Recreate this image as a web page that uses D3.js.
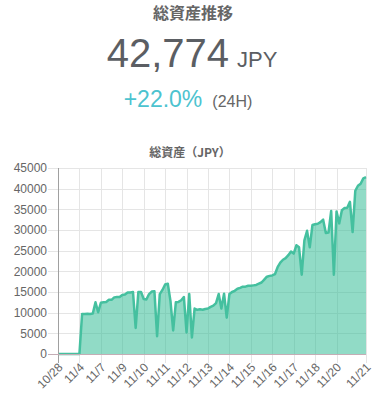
<!DOCTYPE html>
<html>
<head>
<meta charset="utf-8">
<script src="https://cdn.jsdelivr.net/npm/d3@7"></script>
<style>
  body { margin: 0; background: #fff; }
  svg { display: block; }
</style>
</head>
<body>
<svg id="chart" width="391" height="402"></svg>
<script>
// total assets, one value per snapshot (JPY)
var values = [
  0, 0, 0, 0, 0, 0, 0, 0, 0, 9700,
  9700, 9750, 9700, 9800, 12500, 10100, 12400, 12500, 12600, 13100,
  13100, 13700, 13800, 13800, 14300, 14400, 14900, 14900, 15000, 6300,
  15000, 15000, 13300, 13200, 14500, 15100, 15200, 4300, 14500, 15500,
  16800, 17000, 12800, 5700, 12500, 12600, 13000, 13800, 5200, 14500,
  4000, 11000, 10700, 10800, 10700, 10900, 11000, 11400, 11700, 12300,
  14500, 11000, 14600, 8800, 14500, 15000, 15300, 15800, 16000, 16300,
  16300, 16500, 16500, 16600, 16700, 17000, 17300, 18000, 18700, 18900,
  19000, 19300, 21000, 22100, 22800, 23200, 23900, 24800, 24300, 26300,
  25800, 19200, 27500, 29800, 25800, 31200, 31400, 31500, 31900, 32500,
  29300, 29400, 34600, 19200, 34500, 31600, 34800, 35300, 35400, 36800,
  29500, 39500, 40700, 41200, 42500, 42774
];
var tickIdx = [0, 8, 16, 24, 32, 40, 48, 56, 64, 72, 80, 88, 96, 104, 115];
var tickLabels = ["10/28", "11/4", "11/7", "11/9", "11/10", "11/11", "11/12", "11/13",
                  "11/14", "11/15", "11/16", "11/17", "11/18", "11/20", "11/21"];
var yTicks = [0, 5000, 10000, 15000, 20000, 25000, 30000, 35000, 40000, 45000];

var latest = "42,774";
var change = "+22.0%";

var svg = d3.select("#chart");
var font = "'Liberation Sans', Arial, 'Noto Sans CJK JP', sans-serif";

var pLeft = 58, pRight = 366, pTop = 168, pBottom = 354;

var x = d3.scaleLinear().domain([0, values.length - 1]).range([pLeft, pRight]);
var y = d3.scaleLinear().domain([0, 45000]).range([pBottom, pTop]);

// header
svg.append("text")
    .attr("x", 193).attr("y", 19)
    .attr("text-anchor", "middle")
    .style("font", "bold 16px 'Noto Sans CJK JP', sans-serif")
    .attr("fill", "#666")
    .text("総資産推移");

var big = svg.append("text")
    .attr("x", 192).attr("y", 67)
    .attr("text-anchor", "middle")
    .style("font-family", font)
    .attr("fill", "#5b5e63");
big.append("tspan").style("font-size", "40px").text(latest);
big.append("tspan").style("font-size", "22px").attr("dx", 8).text("JPY");

var pct = svg.append("text")
    .attr("x", 188).attr("y", 107)
    .attr("text-anchor", "middle")
    .style("font-family", font);
pct.append("tspan").style("font-size", "23px").attr("fill", "#4cc3cf").text(change);
pct.append("tspan").style("font-size", "16px").attr("fill", "#666").attr("dx", 10).text("(24H)");

// chart title
svg.append("text")
    .attr("x", 190).attr("y", 157)
    .attr("text-anchor", "middle")
    .style("font", "bold 12px 'Noto Sans CJK JP', sans-serif")
    .attr("fill", "#666")
    .text("総資産（JPY）");

// grid
svg.append("g")
  .selectAll("line")
  .data(yTicks)
  .enter().append("line")
    .attr("x1", pLeft - 10).attr("x2", pRight)
    .attr("y1", function(d){ return Math.round(y(d)) + 0.5; })
    .attr("y2", function(d){ return Math.round(y(d)) + 0.5; })
    .attr("stroke", "#e5e5e5");

svg.append("g")
  .selectAll("line")
  .data(tickIdx.slice(1))
  .enter().append("line")
    .attr("x1", function(d){ return Math.round(x(d)) + 0.5; })
    .attr("x2", function(d){ return Math.round(x(d)) + 0.5; })
    .attr("y1", pTop).attr("y2", pBottom + 9)
    .attr("stroke", "#e5e5e5");

// area + line
var area = d3.area()
    .x(function(d, i){ return x(i); })
    .y0(y(0))
    .y1(function(d){ return y(d); });
var line = d3.line()
    .x(function(d, i){ return x(i); })
    .y(function(d){ return y(d); });

svg.append("path")
    .datum(values)
    .attr("d", area)
    .attr("fill", "rgba(54,190,152,0.55)");

svg.append("path")
    .datum(values)
    .attr("d", line)
    .attr("fill", "none")
    .attr("stroke", "#45c09f")
    .attr("stroke-width", 2.5)
    .attr("stroke-linejoin", "round");

// axis borders
svg.append("line")
    .attr("x1", pLeft + 0.5).attr("x2", pLeft + 0.5)
    .attr("y1", pTop).attr("y2", pBottom + 9)
    .attr("stroke", "#a0a0a0");
svg.append("line")
    .attr("x1", pLeft - 10).attr("x2", pRight)
    .attr("y1", pBottom + 0.5).attr("y2", pBottom + 0.5)
    .attr("stroke", "#c4adb5");

// y axis labels
var yAxis = d3.axisLeft(y).tickValues(yTicks).tickFormat(d3.format("d"))
    .tickSize(0).tickPadding(11);
var gy = svg.append("g").attr("transform", "translate(" + pLeft + ",0)").call(yAxis);
gy.select(".domain").remove();
gy.selectAll("text").style("font", "12px " + font).attr("fill", "#666");

// x axis labels
var xAxis = d3.axisBottom(x).tickValues(tickIdx)
    .tickFormat(function(d, i){ return tickLabels[i]; })
    .tickSize(0);
var gx = svg.append("g").attr("transform", "translate(0," + pBottom + ")").call(xAxis);
gx.select(".domain").remove();
gx.selectAll("text")
    .style("font", "12px " + font)
    .attr("fill", "#666")
    .attr("text-anchor", "end")
    .attr("dy", null)
    .attr("y", 0)
    .attr("transform", "translate(5,14) rotate(-45)");
</script>
</body>
</html>
